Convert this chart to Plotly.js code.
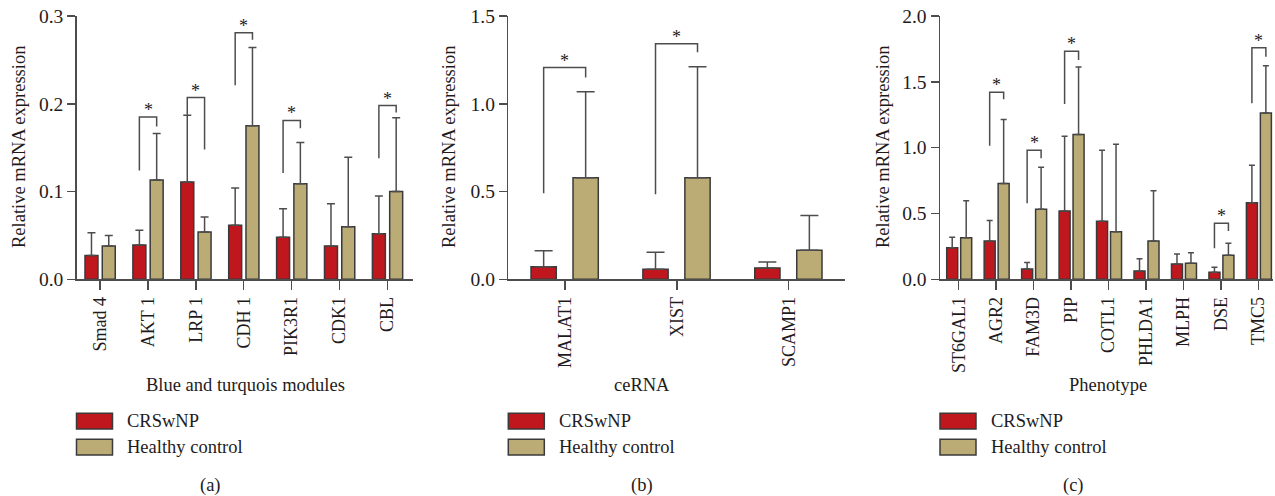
<!DOCTYPE html>
<html>
<head>
<meta charset="utf-8">
<script src="https://cdn.plot.ly/plotly-3.0.1.min.js"></script>
<style>html,body{margin:0;padding:0;background:#fff;}#chart{width:1275px;height:496px;}</style>
</head>
<body>
<div id="chart"></div>
<script>
// ---------------- DATA ----------------
const seriesNames = ['CRSwNP', 'Healthy control'];
const yTitle = 'Relative mRNA expression';
const xTitles = ['Blue and turquois modules', 'ceRNA', 'Phenotype'];
const panelLabels = ['(a)', '(b)', '(c)'];

// Panel (a)
const catsA = ['Smad 4', 'AKT 1', 'LRP 1', 'CDH 1', 'PIK3R1', 'CDK1', 'CBL'];
const crsA = [0.027, 0.039, 0.111, 0.0615, 0.048, 0.038, 0.052];
const crsSdA = [0.026, 0.017, 0.076, 0.0425, 0.0325, 0.048, 0.043];
const hcA = [0.038, 0.113, 0.054, 0.175, 0.109, 0.060, 0.100];
const hcSdA = [0.012, 0.053, 0.017, 0.089, 0.047, 0.079, 0.084];
const sigA = ['AKT 1', 'LRP 1', 'CDH 1', 'PIK3R1', 'CBL'];
const brLeftA = [0.124, 0.187, 0.221, 0.121, 0.138];
const brTopA = [0.185, 0.207, 0.281, 0.181, 0.198];
const brRightA = [0.174, 0.148, 0.273, 0.172, 0.190];

// Panel (b)
const catsB = ['MALAT1', 'XIST', 'SCAMP1'];
const crsB = [0.072, 0.057, 0.065];
const crsSdB = [0.091, 0.097, 0.034];
const hcB = [0.579, 0.579, 0.165];
const hcSdB = [0.490, 0.632, 0.198];
const sigB = ['MALAT1', 'XIST'];
const brLeftB = [0.490, 0.484];
const brTopB = [1.206, 1.342];
const brRightB = [1.150, 1.293];

// Panel (c)
const catsC = ['ST6GAL1', 'AGR2', 'FAM3D', 'PIP', 'COTL1', 'PHLDA1', 'MLPH', 'DSE', 'TMC5'];
const crsC = [0.240, 0.291, 0.078, 0.519, 0.440, 0.063, 0.116, 0.053, 0.582];
const crsSdC = [0.079, 0.155, 0.049, 0.567, 0.540, 0.094, 0.076, 0.038, 0.284];
const hcC = [0.316, 0.727, 0.532, 1.099, 0.362, 0.291, 0.1215, 0.182, 1.263];
const hcSdC = [0.281, 0.486, 0.319, 0.514, 0.663, 0.382, 0.081, 0.091, 0.360];
const sigC = ['AGR2', 'FAM3D', 'PIP', 'DSE', 'TMC5'];
const brLeftC = [1.015, 0.577, 1.332, 0.235, 1.337];
const brTopC = [1.420, 0.980, 1.732, 0.425, 1.759];
const brRightC = [1.367, 0.919, 1.666, 0.367, 1.691];

// ---------------- STYLE / LAYOUT ----------------
const W = 1275, H = 496;
const px = x => x / W;
const py = y => 1 - y / H;
const FONT = 'Liberation Serif, Times New Roman, serif';
const TXT = '#1f1b1c';
const AX = '#4d4d4d';
const RED = '#c0161e';
const TAN = '#bbac76';
const OUT = '#3a3a3a';

const panels = [
  {s: '', cats: catsA, crs: crsA, crsSd: crsSdA, hc: hcA, hcSd: hcSdA, sig: sigA, bl: brLeftA, bt: brTopA, br: brRightA,
   dom: [76.7, 413.3], range: [-0.486, 6.541], yr: [0, 0.3], dtick: 0.1,
   bw: 0.271, offR: -0.313, offT: 0.048, cap: 4,
   yTitleX: 19, xTitleX: 245, legX: 76.5, lblX: 210},
  {s: '2', cats: catsB, crs: crsB, crsSd: crsSdB, hc: hcB, hcSd: hcSdB, sig: sigB, bl: brLeftB, bt: brTopB, br: brRightB,
   dom: [508.3, 845], range: [-0.507, 2.503], yr: [0, 1.5], dtick: 0.5,
   bw: 0.226, offR: -0.304, offT: 0.0715, cap: 9,
   yTitleX: 449, xTitleX: 642, legX: 508.3, lblX: 641.7},
  {s: '3', cats: catsC, crs: crsC, crsSd: crsSdC, hc: hcC, hcSd: hcSdC, sig: sigC, bl: brLeftC, bt: brTopC, br: brRightC,
   dom: [940, 1273], range: [-0.499, 8.39], yr: [0, 2.0], dtick: 0.5,
   bw: 0.294, offR: -0.32, offT: 0.053, cap: 3,
   yTitleX: 883, xTitleX: 1108, legX: 940, lblX: 1073}
];

const plotTop = 16, plotBot = 279.3;
const traces = [];
const annotations = [];
const shapes = [];
const layout = {
  width: W, height: H,
  margin: {l: 0, r: 0, t: 0, b: 0},
  paper_bgcolor: '#fff', plot_bgcolor: 'rgba(0,0,0,0)',
  font: {family: FONT, size: 18, color: TXT},
  showlegend: false,
  barmode: 'overlay',
  annotations: annotations,
  shapes: shapes
};

panels.forEach((p, k) => {
  const xa = 'x' + p.s, ya = 'y' + p.s;
  const idx = p.cats.map((_, i) => i);
  const zeros = p.cats.map(() => 0);
  const mkBar = (vals, sd, name, color, off) => ({
    type: 'bar', x: idx, y: vals, name: name, xaxis: xa, yaxis: ya,
    width: p.bw, offset: off,
    marker: {color: color, line: {color: OUT, width: 1.5}},
    error_y: {type: 'data', symmetric: false, array: sd, arrayminus: zeros,
              color: AX, thickness: 1.5, width: p.cap},
    hoverinfo: 'x+y'
  });
  traces.push(mkBar(p.crs, p.crsSd, seriesNames[0], RED, p.offR));
  traces.push(mkBar(p.hc, p.hcSd, seriesNames[1], TAN, p.offT));

  // significance brackets
  const lc = p.offR + p.bw / 2, rc = p.offT + p.bw / 2;
  const bx = [], by = [];
  p.sig.forEach((c, j) => {
    const i = p.cats.indexOf(c);
    bx.push(i + lc, i + lc, i + rc, i + rc, null);
    by.push(p.bl[j], p.bt[j], p.bt[j], p.br[j], null);
    annotations.push({x: i + (lc + rc) / 2, y: p.bt[j], xref: xa, yref: ya,
      text: '*', showarrow: false, yanchor: 'bottom', yshift: -5,
      font: {family: FONT, size: 18, color: TXT}});
  });
  traces.push({type: 'scatter', mode: 'lines', x: bx, y: by, xaxis: xa, yaxis: ya,
    line: {color: AX, width: 1.5}, hoverinfo: 'skip', showlegend: false});

  const xKey = 'xaxis' + p.s, yKey = 'yaxis' + p.s;
  layout[xKey] = {
    domain: [px(p.dom[0]), px(p.dom[1])], range: p.range, anchor: ya,
    tickmode: 'array', tickvals: idx, ticktext: p.cats, tickangle: -90,
    ticks: 'outside', ticklen: 9, tickwidth: 1.5, tickcolor: AX,
    showline: true, linecolor: AX, linewidth: 1.5,
    showgrid: false, zeroline: false, fixedrange: true,
    tickfont: {family: FONT, size: 18, color: TXT}
  };
  layout[yKey] = {
    domain: [py(plotBot), py(plotTop)], range: p.yr, anchor: xa,
    dtick: p.dtick, tick0: 0, tickformat: '.1f',
    ticks: 'outside', ticklen: 8, tickwidth: 1.5, tickcolor: AX,
    showline: true, linecolor: AX, linewidth: 1.5,
    showgrid: false, zeroline: false, fixedrange: true,
    tickfont: {family: FONT, size: 19.5, color: TXT}
  };

  // y title
  annotations.push({x: px(p.yTitleX), y: py(147), xref: 'paper', yref: 'paper',
    text: yTitle, textangle: -90, showarrow: false, xanchor: 'center', yanchor: 'middle',
    font: {family: FONT, size: 18.5, color: TXT}});
  // x title
  annotations.push({x: px(p.xTitleX), y: py(385), xref: 'paper', yref: 'paper',
    text: xTitles[k], showarrow: false, xanchor: 'center', yanchor: 'middle',
    font: {family: FONT, size: 18.5, color: TXT}});
  // panel label
  annotations.push({x: px(p.lblX), y: py(485), xref: 'paper', yref: 'paper',
    text: panelLabels[k], showarrow: false, xanchor: 'center', yanchor: 'middle',
    font: {family: FONT, size: 18.5, color: TXT}});
  // legend
  [[RED, 413.3, 429], [TAN, 439.3, 455]].forEach((b, m) => {
    shapes.push({type: 'rect', xref: 'paper', yref: 'paper',
      x0: px(p.legX), x1: px(p.legX + 36), y0: py(b[2]), y1: py(b[1]),
      fillcolor: b[0], line: {color: OUT, width: 1.5}});
    annotations.push({x: px(p.legX + 48.5), y: py((b[1] + b[2]) / 2), xref: 'paper', yref: 'paper',
      text: seriesNames[m], showarrow: false, xanchor: 'left', yanchor: 'middle',
      font: {family: FONT, size: 18.5, color: TXT}});
  });
});

Plotly.newPlot('chart', traces, layout, {staticPlot: true, displayModeBar: false});
</script>
</body>
</html>
